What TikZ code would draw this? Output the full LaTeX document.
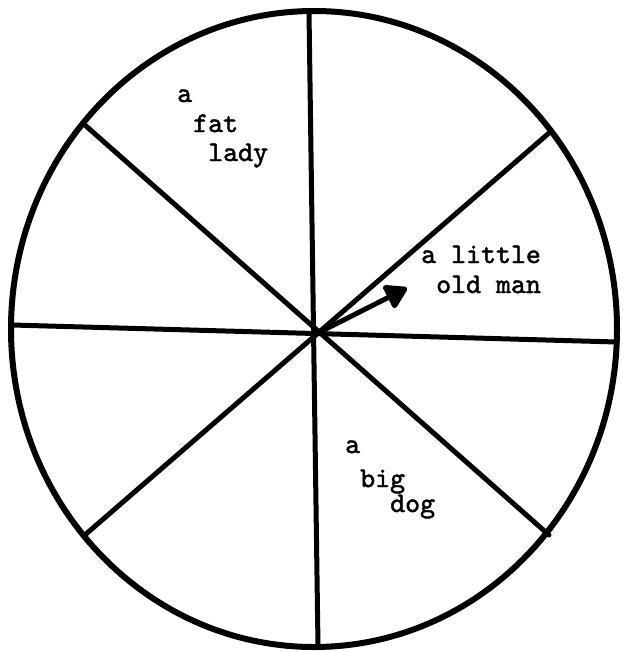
\documentclass[tikz,border=0pt]{standalone}
\usepackage{fontspec}
\newfontfamily\typewriter[FakeBold=1.6]{lmmono10-regular.otf}
\usetikzlibrary{arrows.meta}
\tikzset{
  rim/.style={line width=6pt, line join=round},
  spoke/.style={line width=5pt, line cap=round},
  word/.style={anchor=base west, inner sep=0pt, font=\typewriter\fontsize{28.5}{32}\selectfont},
  pointer/.style={line width=5pt, -{Triangle[length=24pt,width=28pt,round]}}
}
\begin{document}
\begin{tikzpicture}[x=1pt,y=-1pt]
\useasboundingbox (0,0) rectangle (622,651);
\fill[white] (0,0) rectangle (622,651);
% rim
\draw[rim] (314,329) ellipse [x radius=303, y radius=318];
% hub and spoke ends
\coordinate (c) at (316,334);
\coordinate (top) at (309,12);
\coordinate (bot) at (318,646);
\coordinate (lft) at (12,325);
\coordinate (rgt) at (617,342);
\coordinate (ul) at (86,126);
\coordinate (lr) at (549,535);
\coordinate (ur) at (549,133);
\coordinate (ll) at (86,534);
\draw[spoke] (top) -- (bot);
\draw[spoke] (lft) -- (rgt);
\draw[spoke] (ul) -- (lr);
\draw[spoke] (ur) -- (ll);
% pointer
\coordinate (tip) at (407,288);
\draw[pointer] (c) -- (tip);
% labels
\node[word] (w1) at (177,102) {a};
\node[word] (w2) at (193,132) {fat};
\node[word] (w3) at (208,161) {lady};
\node[word] (w4) at (421,263) {a little};
\node[word] (w5) at (436,293) {old man};
\node[word] (w6) at (345,453) {a};
\node[word] (w7) at (360,487) {big};
\node[word] (w8) at (390,512) {dog};
\end{tikzpicture}
\end{document}
